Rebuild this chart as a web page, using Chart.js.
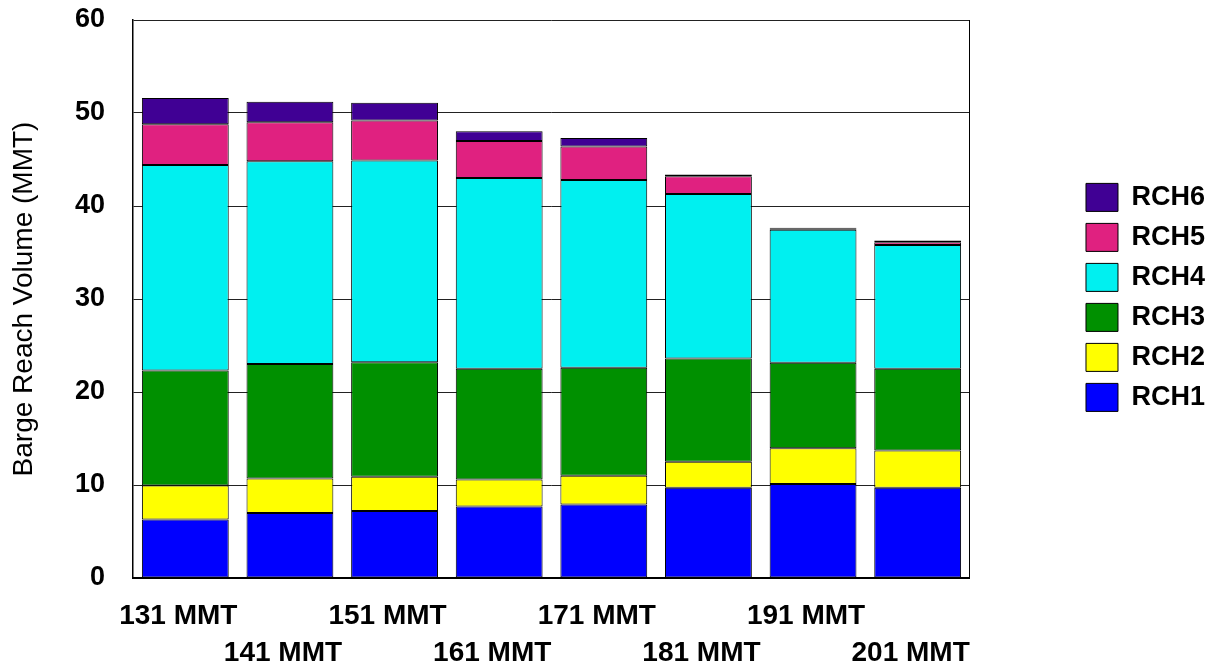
<!DOCTYPE html>
<html>
<head>
<meta charset="utf-8">
<script src="https://cdn.jsdelivr.net/npm/chart.js@4/dist/chart.umd.min.js"></script>
<style>
  body { margin: 0; background: #fff; }
  #wrap { width: 1215px; height: 664px; }
</style>
</head>
<body>
<div id="wrap"><canvas id="chart" width="1215" height="664"></canvas></div>
<script>
// reach volumes (MMT) per scenario
const categories = ['131 MMT', '141 MMT', '151 MMT', '161 MMT', '171 MMT', '181 MMT', '191 MMT', '201 MMT'];
const rch1 = [6.3, 7.0, 7.2, 7.7, 7.9, 9.7, 10.1, 9.7];
const rch2 = [3.65, 3.7, 3.7, 2.9, 3.1, 2.8, 3.85, 4.0];
const rch3 = [12.35, 12.3, 12.3, 11.9, 11.6, 11.1, 9.2, 8.8];
const rch4 = [22.1, 21.8, 21.7, 20.5, 20.2, 17.7, 14.3, 13.3];
const rch5 = [4.4, 4.2, 4.3, 4.0, 3.6, 1.9, 0.1, 0.3];
const rch6 = [2.8, 2.2, 1.9, 1.05, 0.9, 0.2, 0.1, 0.2];
const yTicks = [0, 10, 20, 30, 40, 50, 60];

const FONT = '"Liberation Sans", Arial, sans-serif';

function series(label, data, color) {
    return {
        label: label,
        data: data,
        backgroundColor: color,
        borderColor: '#000',
        borderWidth: 1,
        borderSkipped: false,
        barPercentage: 0.83,
        categoryPercentage: 1.0,
    };
}

const ctx = document.getElementById('chart');
new Chart(ctx, {
    type: 'bar',
    data: {
        labels: categories,
        datasets: [
            series('RCH1', rch1, '#0000ff'),
            series('RCH2', rch2, '#ffff00'),
            series('RCH3', rch3, '#009000'),
            series('RCH4', rch4, '#00f0f0'),
            series('RCH5', rch5, '#e02180'),
            series('RCH6', rch6, '#400094'),
        ]
    },
    options: {
        responsive: false,
        animation: false,
        layout: { padding: { top: 20, left: 0, right: 0, bottom: 0 } },
        plugins: {
            tooltip: { enabled: false },
            legend: {
                position: 'right',
                reverse: true,
                align: 'start',
                // empty title only used as a spacer above the items
                title: { display: true, text: '', padding: { top: 0, bottom: 137 }, font: { size: 12 } },
                labels: {
                    color: '#000',
                    boxWidth: 32,
                    boxHeight: 28,
                    padding: 12,
                    font: { family: FONT, size: 27, weight: 'bold' }
                }
            }
        },
        scales: {
            x: {
                stacked: true,
                afterFit: (scale) => { scale.height = 86; scale.paddingLeft = 0; scale.paddingRight = 0; },
                grid: { display: false },
                border: { display: true, color: '#000', width: 2 },
                ticks: {
                    color: '#000',
                    autoSkip: false,
                    maxRotation: 0,
                    padding: 12,
                    labelOffset: -7,
                    font: { family: FONT, size: 28, weight: 'bold', lineHeight: 1.32 },
                    // stagger the labels over two rows
                    callback: function (value, index) {
                        const label = this.getLabelForValue(value);
                        return index % 2 === 0 ? [label, ''] : ['', label];
                    }
                }
            },
            y: {
                stacked: true,
                min: 0,
                max: 60,
                afterFit: (scale) => { scale.width = 133; scale.paddingTop = 0; scale.paddingBottom = 0; },
                afterBuildTicks: (scale) => { scale.ticks = yTicks.map(v => ({ value: v })); },
                grid: { color: '#222', lineWidth: 1, drawTicks: false },
                border: { display: true, color: '#000', width: 1.5 },
                ticks: {
                    color: '#000',
                    padding: 28,
                    font: { family: FONT, size: 27, weight: 'bold' }
                },
                title: {
                    display: true,
                    text: 'Barge Reach Volume (MMT)',
                    color: '#000',
                    padding: { top: 7, bottom: 0 },
                    font: { family: FONT, size: 28 }
                }
            },
            // empty axis: closes the plot box on the right and leaves the gap before the legend
            yRight: {
                position: 'right',
                grid: { display: false },
                ticks: { display: false },
                border: { display: true, color: '#000', width: 1 },
                afterFit: (scale) => { scale.width = 104; scale.paddingTop = 0; scale.paddingBottom = 0; }
            }
        }
    }
});
</script>
</body>
</html>
